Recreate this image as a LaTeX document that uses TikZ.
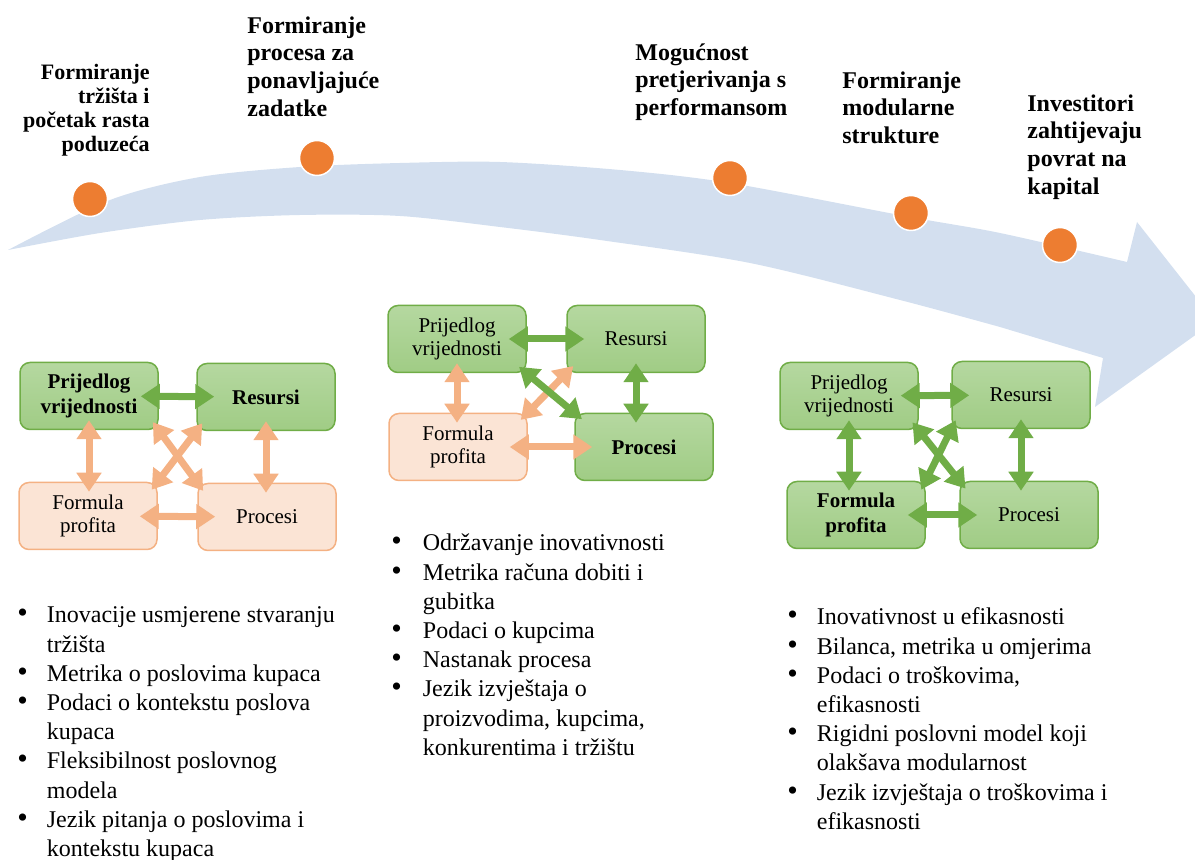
\documentclass[tikz,border=0pt]{standalone}
\usepackage{fontspec}
\setmainfont{Liberation Serif}
\usetikzlibrary{arrows.meta}
\definecolor{bandblue}{RGB}{211,223,239}
\definecolor{dotorange}{RGB}{237,125,49}
\definecolor{greentop}{RGB}{181,216,160}
\definecolor{greenbottom}{RGB}{160,204,133}
\definecolor{greenline}{RGB}{112,173,71}
\definecolor{peachfill}{RGB}{251,228,213}
\definecolor{peachline}{RGB}{244,177,131}
\newcommand{\blt}{{\fontsize{15}{14.6}\selectfont\textbullet}}
\begin{document}
\begin{tikzpicture}[x=0.5pt,y=-0.5pt,
  dot/.style={circle,fill=dotorange,draw=white,line width=0.75pt,minimum size=17.5pt,inner sep=0pt},
  stage/.style={inner sep=0pt,font=\fontsize{12}{13.9}\selectfont\bfseries},
  box/.style={rounded corners=5pt,minimum width=69pt,minimum height=33.5pt,align=center,inner sep=1pt,line width=0.75pt,font=\fontsize{10.5}{11.5}\selectfont},
  gbox/.style={box,draw=greenline,top color=greentop,bottom color=greenbottom},
  pbox/.style={box,draw=peachline,fill=peachfill},
  key/.style={font=\fontsize{10.5}{12.5}\selectfont\bfseries},
  link/.style={line width=3.5pt,{Triangle[length=9.5pt,width=12pt]}-{Triangle[length=9.5pt,width=12pt]},shorten <=-5pt,shorten >=-5pt},
  wide/.style={shorten <=-9pt,shorten >=-9pt},
  glink/.style={link,color=greenline},
  plink/.style={link,color=peachline},
  items/.style={anchor=north west,inner sep=0pt,font=\fontsize{12}{14.6}\selectfont}]
\useasboundingbox (0,0) rectangle (1195,860);

% the curved arrow
\fill[bandblue] plot[smooth] coordinates {(8,250) (110,200) (200,177) (300,167) (400,163) (500,162) (620,170) (730,183) (910,217) (1000,233) (1127,262)}
  -- (1137,222) -- (1215,321) -- (1095,407) -- (1103,358)
  -- plot[smooth] coordinates {(1000,327) (900,300) (750,263) (600,240) (500,227) (400,216) (300,215) (200,220) (100,233) (8,250)} -- cycle;

% stages
\node[dot] (d1) at (90,199) {};
\node[dot] (d2) at (317,158) {};
\node[dot] (d3) at (730,178) {};
\node[dot] (d4) at (911,213) {};
\node[dot] (d5) at (1060,245) {};
\node[stage,font=\fontsize{11}{12}\selectfont\bfseries,align=right,anchor=north east] (s1) at (150,64) {Formiranje\\tržišta i\\početak rasta\\poduzeća};
\node[stage,align=left,anchor=north west] (s2) at (247,16) {Formiranje\\procesa za\\ponavljajuće\\zadatke};
\node[stage,align=left,anchor=north west] (s3) at (635,43) {Mogućnost\\pretjerivanja s\\performansom};
\node[stage,align=left,anchor=north west] (s4) at (842,71) {Formiranje\\modularne\\strukture};
\node[stage,align=left,anchor=north west] (s5) at (1027,94) {Investitori\\zahtijevaju\\povrat na\\kapital};

% first model
\node[gbox,key] (pv1) at (89,396) {Prijedlog\\vrijednosti};
\node[gbox,key] (res1) at (266,397) {Resursi};
\node[pbox] (fp1) at (88,516) {Formula\\profita};
\node[pbox] (pr1) at (267,517) {Procesi};
\draw[plink] (pv1.south) -- (pv1.south |- fp1.north);
\draw[plink] (res1.south) -- (res1.south |- pr1.north);
\draw[plink] (pv1.south east) -- (pr1.north west);
\draw[plink] (res1.south west) -- (fp1.north east);
\draw[plink,wide] (fp1) -- (pr1);
\draw[glink,wide] (pv1) -- (res1);

% second model
\node[gbox] (pv2) at (457,339) {Prijedlog\\vrijednosti};
\node[gbox] (res2) at (636,339) {Resursi};
\node[pbox] (fp2) at (458,447) {Formula\\profita};
\node[gbox,key] (pr2) at (644,447) {Procesi};
\draw[plink] (pv2.south) -- (pv2.south |- fp2.north);
\draw[plink] (res2.south west) -- (fp2.north east);
\draw[plink,wide] (fp2) -- (pr2);
\draw[glink,wide] (pv2) -- (res2);
\draw[glink] (res2.south) -- (res2.south |- pr2.north);
\draw[glink] (pv2.south east) -- (pr2.north west);

% third model
\node[gbox] (pv3) at (849,396) {Prijedlog\\vrijednosti};
\node[gbox] (res3) at (1021,395) {Resursi};
\node[gbox,key] (fp3) at (856,515) {Formula\\profita};
\node[gbox] (pr3) at (1029,515) {Procesi};
\draw[glink,wide] (pv3) -- (res3);
\draw[glink] (pv3.south) -- (pv3.south |- fp3.north);
\draw[glink] (res3.south) -- (res3.south |- pr3.north);
\draw[glink] (pv3.south east) -- (pr3.north west);
\draw[glink] (res3.south west) -- (fp3.north east);
\draw[glink,wide] (fp3) -- (pr3);

% lists
\node[items] (l1) at (17,602) {\begin{tabular}{@{}l@{\hspace{9.5pt}}l@{}}
\blt & Inovacije usmjerene stvaranju\\
 & tržišta\\
\blt & Metrika o poslovima kupaca\\
\blt & Podaci o kontekstu poslova\\
 & kupaca\\
\blt & Fleksibilnost poslovnog\\
 & modela\\
\blt & Jezik pitanja o poslovima i\\
 & kontekstu kupaca
\end{tabular}};
\node[items] (l2) at (391,530) {\begin{tabular}{@{}l@{\hspace{10.5pt}}l@{}}
\blt & Održavanje inovativnosti\\
\blt & Metrika računa dobiti i\\
 & gubitka\\
\blt & Podaci o kupcima\\
\blt & Nastanak procesa\\
\blt & Jezik izvještaja o\\
 & proizvodima, kupcima,\\
 & konkurentima i tržištu
\end{tabular}};
\node[items] (l3) at (787,604) {\begin{tabular}{@{}l@{\hspace{9.5pt}}l@{}}
\blt & Inovativnost u efikasnosti\\
\blt & Bilanca, metrika u omjerima\\
\blt & Podaci o troškovima,\\
 & efikasnosti\\
\blt & Rigidni poslovni model koji\\
 & olakšava modularnost\\
\blt & Jezik izvještaja o troškovima i\\
 & efikasnosti
\end{tabular}};
\end{tikzpicture}
\end{document}
